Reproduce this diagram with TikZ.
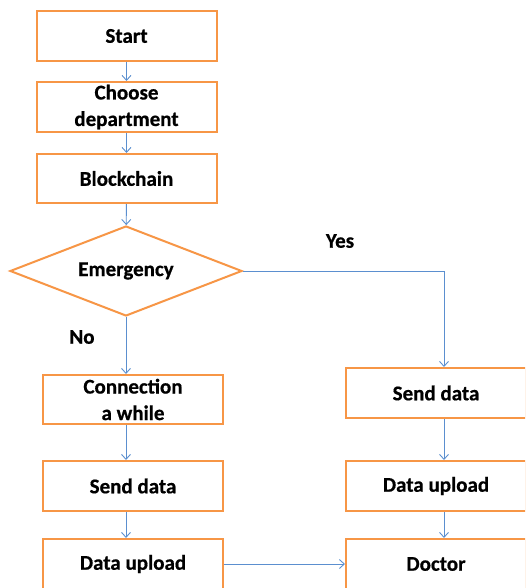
\documentclass[tikz,border=0pt]{standalone}
\usepackage{fontspec}
\setmainfont{Carlito}[BoldFeatures={FakeBold=0.6}]
\usetikzlibrary{shapes.geometric,arrows.meta}
\definecolor{boxorange}{HTML}{F79646}
\definecolor{lineblue}{HTML}{5B8FCF}
\tikzset{
  box/.style={draw=boxorange, line width=2pt, rectangle, minimum width=180pt, minimum height=50pt,
    inner sep=0pt, align=center, font=\fontsize{21}{26.5}\selectfont\bfseries},
  decision/.style={draw=boxorange, line width=2pt, diamond, aspect=2.55, minimum width=232pt, minimum height=90pt,
    inner sep=0pt, font=\fontsize{21}{26}\selectfont\bfseries},
  arr/.style={draw=lineblue, line width=0.9pt, -{Straight Barb[length=5pt,width=9pt]}},
  lbl/.style={font=\fontsize{21}{26}\selectfont\bfseries, inner sep=0pt}
}
\begin{document}
\begin{tikzpicture}[x=1pt,y=-1pt]
\useasboundingbox (0,0) rectangle (525,588);
\clip (0,0) rectangle (525,588);
\fill[white] (0,0) rectangle (525,588);
\node[box] (start) at (126.5,36) {Start};
\node[box] (choose) at (126.5,107) {Choose\\department};
\node[box, minimum height=49pt] (block) at (126.5,178.5) {Blockchain};
\node[decision] (emer) at (126,271) {Emergency};
\node[box, minimum height=49pt] (conn) at (133,399.5) {Connection\\a while};
\node[box] (send1) at (133,486) {Send data};
\node[box] (up1) at (133,564) {Data upload};
\node[box] (send2) at (436,393) {Send data};
\node[box] (up2) at (436,486) {Data upload};
\node[box] (doc) at (436,564) {Doctor};
\coordinate (lx) at (126,0);
\coordinate (rx) at (444,0);
\node[lbl] (yes) at (340,241) {Yes};
\node[lbl] (no) at (82,337) {No};
\draw[arr] (start) -- (choose);
\draw[arr] (choose) -- (block);
\draw[arr] (block) -- (emer);
\draw[arr] (emer.south) -- (lx |- conn.north);
\draw[arr] (lx |- conn.south) -- (lx |- send1.north);
\draw[arr] (lx |- send1.south) -- (lx |- up1.north);
\draw[arr] (emer.east) -- (rx |- emer.east) -- (rx |- send2.north);
\draw[arr] (rx |- send2.south) -- (rx |- up2.north);
\draw[arr] (rx |- up2.south) -- (rx |- doc.north);
\draw[arr] (up1.east) -- (doc.west);
\end{tikzpicture}
\end{document}
